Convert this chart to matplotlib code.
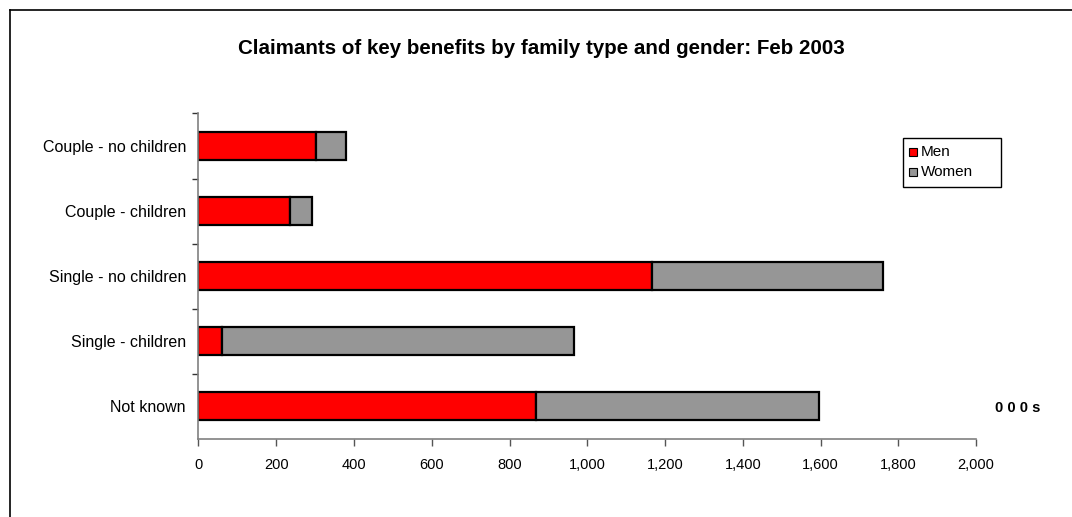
"""Claimants of key benefits by family type and gender, Feb 2003."""

import matplotlib

matplotlib.use("Agg")
import matplotlib.pyplot as plt  # noqa: E402
from matplotlib.lines import Line2D  # noqa: E402
from matplotlib.patches import Rectangle  # noqa: E402
from matplotlib.ticker import FuncFormatter, FixedLocator  # noqa: E402

categories = [
    "Not known",
    "Single - children",
    "Single - no children",
    "Couple - children",
    "Couple - no children",
]
men = [869, 60, 1166, 236, 302]
women = [726, 907, 594, 55, 78]
series_names = ["Men", "Women"]
series_colors = ["#ff0000", "#969696"]
x_ticks = [0, 200, 400, 600, 800, 1000, 1200, 1400, 1600, 1800, 2000]

plt.rcParams["font.family"] = ["Liberation Sans", "DejaVu Sans"]

W, H, DPI = 1072, 517, 100
fig = plt.figure(figsize=(W / DPI, H / DPI), dpi=DPI)


def fx(px):
    return px / W


def fy(py):
    return 1 - py / H


# axes placed in pixel terms: x 198.5..976, y 113.5..439 (from top)
left, right, top, bottom = 198.5, 976.0, 113.5, 439.0
ax = fig.add_axes([fx(left), fy(bottom), (right - left) / W, (bottom - top) / H])

pos = list(range(len(categories)))
ax.barh(pos, men, height=0.43, color=series_colors[0], edgecolor="black",
        linewidth=1.6)
ax.barh(pos, women, left=men, height=0.43, color=series_colors[1],
        edgecolor="black", linewidth=1.6)

ax.set_xlim(0, 2000)
ax.set_ylim(-0.5, len(categories) - 0.5)
ax.xaxis.set_major_locator(FixedLocator(x_ticks))
ax.xaxis.set_major_formatter(FuncFormatter(lambda v, _: f"{int(v):,}"))

# category labels centred, tick marks between categories (Excel style)
ax.set_yticks(pos)
ax.set_yticklabels(categories, fontsize=11.5)
ax.tick_params(axis="y", length=0, pad=9)
ax.set_yticks([p + 0.5 for p in pos], minor=True)
ax.tick_params(axis="y", which="minor", length=4, width=1, color="#333333")
ax.tick_params(axis="x", length=5, width=1, color="#555555", labelsize=10.5,
               pad=9)

for side in ("top", "right"):
    ax.spines[side].set_visible(False)
for side in ("left", "bottom"):
    ax.spines[side].set_color("#808080")
    ax.spines[side].set_linewidth(1.2)

fig.text(fx(541), fy(48),
         "Claimants of key benefits by family type and gender: Feb 2003",
         ha="center", va="center", fontsize=14.8, fontweight="bold")

fig.text(fx(1040), fy(408), "0 0 0 s", ha="right", va="center",
         fontsize=10.5, fontweight="bold")

# legend drawn as an Excel-style box
fig.add_artist(Rectangle((fx(903), fy(187)), 98 / W, 49 / H,
                         transform=fig.transFigure, facecolor="white",
                         edgecolor="black", linewidth=1.0))
for i, (name, color) in enumerate(zip(series_names, series_colors)):
    yc = 152 + 20 * i
    fig.add_artist(Rectangle((fx(909), fy(yc + 4)), 8 / W, 8 / H,
                             transform=fig.transFigure, facecolor=color,
                             edgecolor="black", linewidth=0.8))
    fig.text(fx(921), fy(yc), name, ha="left", va="center", fontsize=11)

# outer chart-area border (left and top edges visible)
fig.add_artist(Line2D([fx(10), fx(10)], [0, fy(10)], color="black",
                      linewidth=1.2, transform=fig.transFigure))
fig.add_artist(Line2D([fx(10), 1], [fy(10), fy(10)], color="black",
                      linewidth=1.2, transform=fig.transFigure))

fig.savefig("out.png", dpi=DPI)
plt.close(fig)
